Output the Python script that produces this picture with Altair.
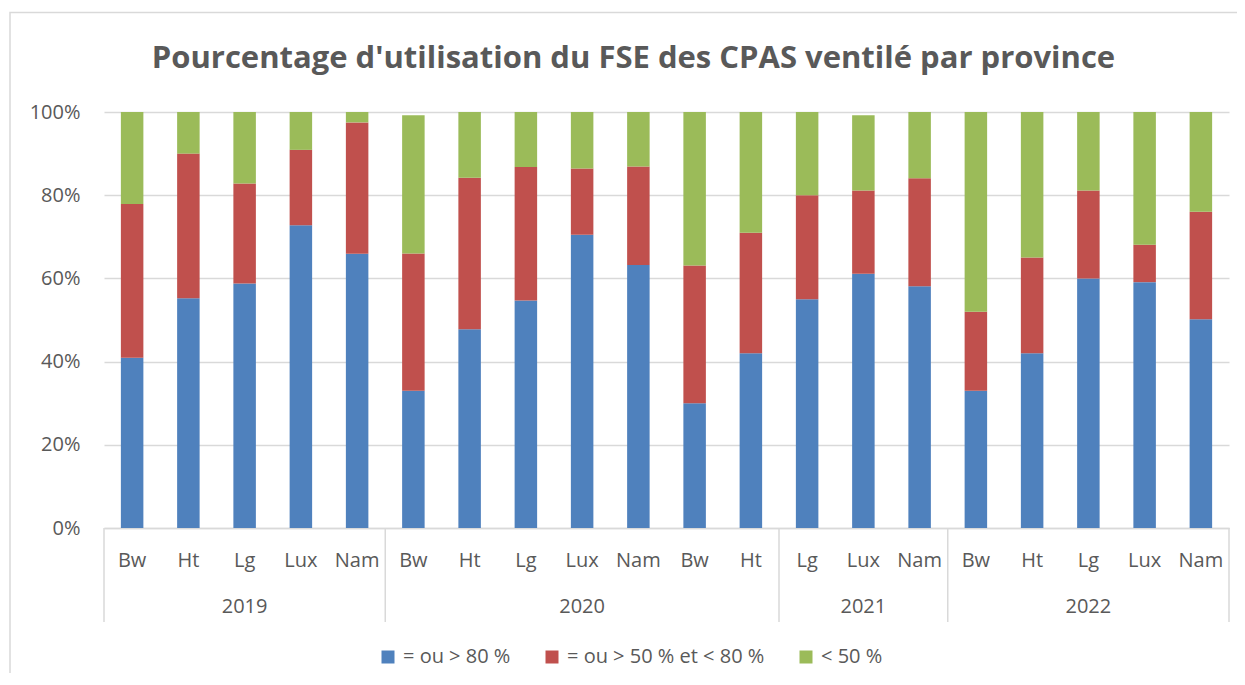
import altair as alt
import pandas as pd

# ---- data ----
years = ["2019"] * 5 + ["2020"] * 7 + ["2021"] * 3 + ["2022"] * 5
provinces = ["Bw", "Ht", "Lg", "Lux", "Nam",
             "Bw", "Ht", "Lg", "Lux", "Nam", "Bw", "Ht",
             "Lg", "Lux", "Nam",
             "Bw", "Ht", "Lg", "Lux", "Nam"]
pct_high = [40.9, 55.2, 58.8, 72.8, 65.9,
            33.0, 47.8, 54.7, 70.5, 63.2, 30.0, 42.0,
            55.0, 61.1, 58.1,
            33.0, 42.0, 60.0, 59.1, 50.2]
pct_mid = [37.0, 34.8, 24.0, 18.1, 31.6,
           33.0, 36.4, 32.1, 15.9, 23.7, 33.1, 29.0,
           25.0, 20.0, 26.0,
           19.0, 23.0, 21.1, 9.0, 25.8]
pct_low = [22.1, 10.0, 17.2, 9.1, 2.5,
           33.2, 15.8, 13.2, 13.6, 13.1, 36.9, 29.0,
           20.0, 18.1, 15.9,
           48.0, 35.0, 18.9, 31.9, 24.0]
series = ["= ou > 80 %", "= ou > 50 % et < 80 %", "< 50 %"]
colors = ["#4F81BD", "#C0504D", "#9BBB59"]
y_ticks = [0, 0.2, 0.4, 0.6, 0.8, 1.0]
title_text = "Pourcentage d'utilisation du FSE des CPAS ventilé par province"

FONT = "Open Sans"
GREY = "#595959"
LINE = "#d9d9d9"

keys = [f"{i:02d}|{p}" for i, p in enumerate(provinces)]

rows = []
for i, k in enumerate(keys):
    for j, vals in enumerate([pct_high, pct_mid, pct_low]):
        rows.append({"key": k, "year": years[i], "series": series[j],
                     "value": vals[i] / 100.0, "order": j})
df = pd.DataFrame(rows)

# group structure derived from the year list
groups = []
start = 0
for i in range(1, len(years) + 1):
    if i == len(years) or years[i] != years[start]:
        groups.append((years[start], start, i - 1))
        start = i
starts_df = pd.DataFrame({"key": [keys[s] for _, s, _ in groups]})
end_df = pd.DataFrame({"key": [keys[groups[-1][2]]]})
year_df = pd.DataFrame({"key": [keys[(s + e) // 2] for _, s, e in groups],
                        "year": [y for y, _, _ in groups]})

x_scale = alt.Scale(paddingInner=0, paddingOuter=0)

bars = alt.Chart(df).mark_bar(width={"band": 0.4}).encode(
    x=alt.X("key:O", scale=x_scale, sort="ascending",
            axis=alt.Axis(title=None, labelExpr="split(datum.label, '|')[1]",
                          labelAngle=0, labelFontSize=20, labelColor=GREY,
                          labelFont=FONT, ticks=False, domainColor=LINE,
                          domainWidth=1.5, labelPadding=22, grid=False)),
    y=alt.Y("value:Q", stack="zero",
            scale=alt.Scale(domain=[0, 1], nice=False),
            axis=alt.Axis(title=None, format=".0%", values=y_ticks,
                          labelFontSize=20, labelColor=GREY, labelFont=FONT,
                          ticks=False, domain=False, gridColor=LINE,
                          gridWidth=1.5, labelPadding=24)),
    color=alt.Color("series:N",
                    scale=alt.Scale(domain=series, range=colors),
                    legend=alt.Legend(title=None, orient="none",
                                      direction="horizontal",
                                      legendX=274, legendY=535,
                                      symbolType="square", symbolSize=169,
                                      symbolStrokeWidth=0, labelFontSize=20,
                                      labelColor=GREY, labelFont=FONT,
                                      labelOffset=5, columnPadding=31,
                                      labelLimit=600, padding=0)),
    order=alt.Order("order:Q"),
)

sep_start = alt.Chart(starts_df).mark_rule(color=LINE, strokeWidth=1.5).encode(
    x=alt.X("key:O", bandPosition=0, scale=x_scale),
    y=alt.value(416), y2=alt.value(510))
sep_end = alt.Chart(end_df).mark_rule(color=LINE, strokeWidth=1.5).encode(
    x=alt.X("key:O", bandPosition=1, scale=x_scale),
    y=alt.value(416), y2=alt.value(510))

year_text = alt.Chart(year_df).mark_text(
    fontSize=20, font=FONT, color=GREY, baseline="alphabetic", align="center"
).encode(
    x=alt.X("key:O", bandPosition=0.5, scale=x_scale),
    y=alt.value(501),
    text="year:N")

border = alt.Chart(pd.DataFrame({"a": [0]})).mark_rect(
    fillOpacity=0, stroke=LINE, strokeWidth=1.5
).encode(x=alt.value(-94), y=alt.value(-99.5), x2=alt.value(1500), y2=alt.value(1000))

chart = alt.layer(border, bars, sep_start, sep_end, year_text).properties(
    width=1125, height=416,
    autosize=alt.AutoSizeParams(type="none"),
    padding={"left": 96, "top": 104, "right": 8, "bottom": 145},
    title=alt.TitleParams(title_text, font=FONT, fontSize=31, fontWeight="bold",
                          color=GREY, anchor="middle", dx=-33, offset=0, dy=87,
                          baseline="alphabetic"),
).configure_view(stroke=None)

chart.save("out.html", embed_options={"renderer": "svg", "actions": False})
